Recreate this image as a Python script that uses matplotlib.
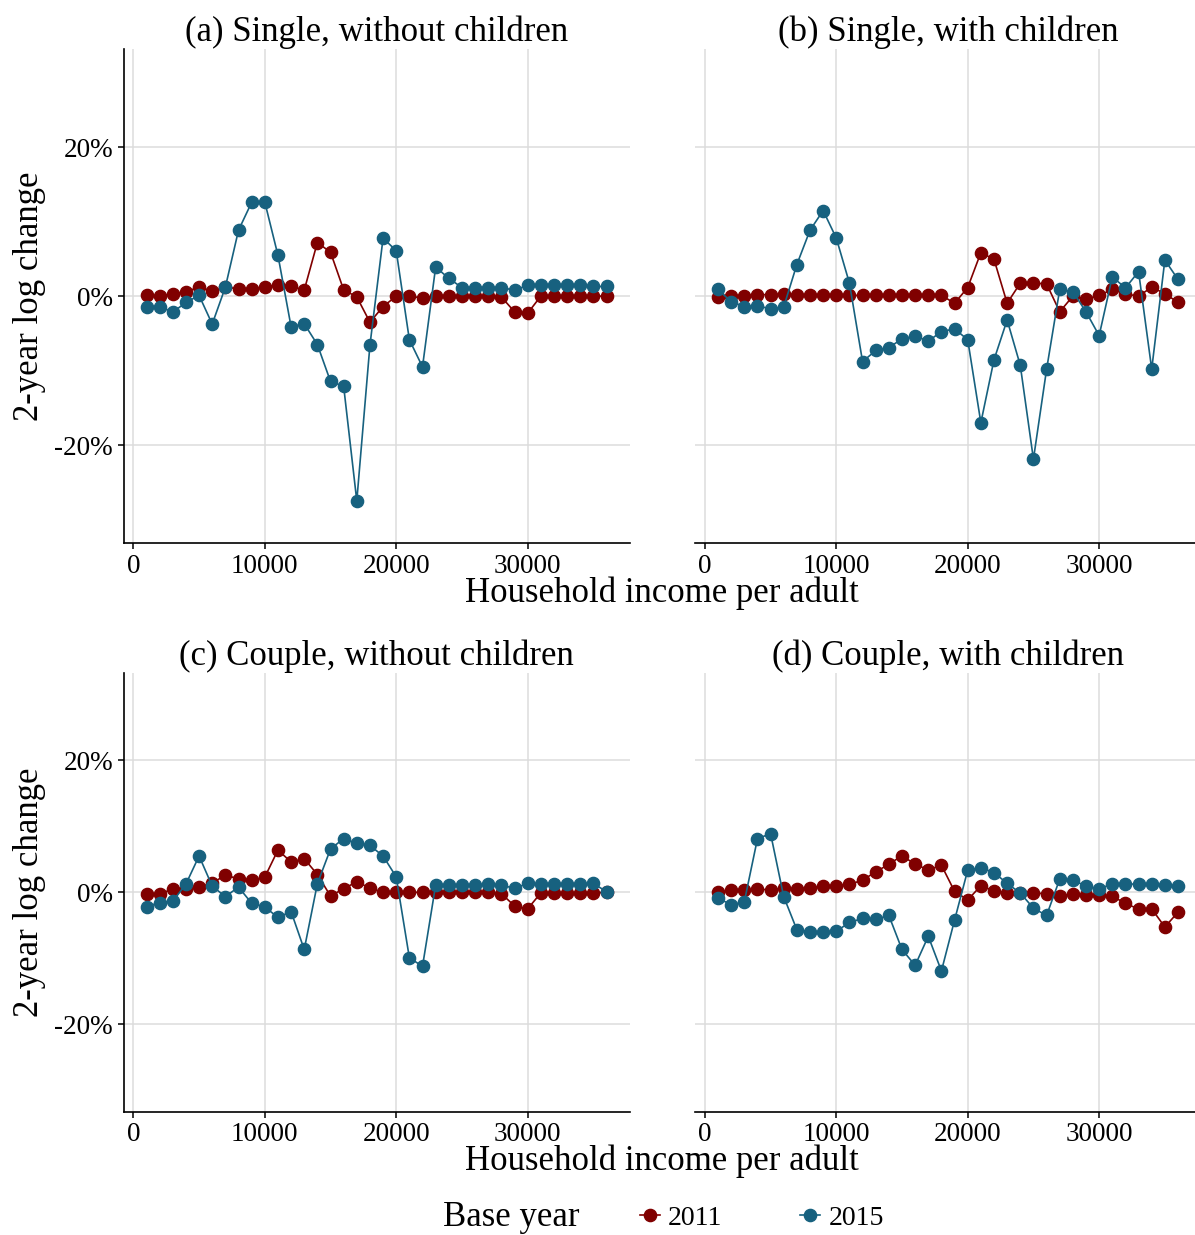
import matplotlib.pyplot as plt
from matplotlib.lines import Line2D

plt.rcParams['font.family'] = ['Liberation Serif', 'DejaVu Serif']

income = list(range(1000, 37000, 1000))

# 2-year log change (%) by base year, one pair of series per household type
single_nokids_2011 = [0.1, 0.0, 0.3, 0.6, 1.2, 0.7, 1.2, 1.0, 1.0, 1.25, 1.5, 1.35,
                      0.8, 7.2, 5.9, 0.85, -0.1, -3.5, -1.4, 0.0, 0.0, -0.25, 0.0, 0.0,
                      0.0, 0.0, 0.0, -0.1, -2.1, -2.3, 0.0, 0.0, 0.0, 0.0, 0.0, 0.0]
single_nokids_2015 = [-1.4, -1.4, -2.15, -0.85, 0.1, -3.75, 1.2, 8.85, 12.6, 12.65, 5.5, -4.1,
                      -3.7, -6.5, -11.45, -12.1, -27.5, -6.6, 7.8, 6.1, -5.85, -9.5, 3.9, 2.4,
                      1.15, 1.15, 1.15, 1.15, 0.8, 1.45, 1.45, 1.45, 1.45, 1.5, 1.3, 1.3]

single_kids_2011 = [-0.15, 0.0, 0.0, 0.2, 0.2, 0.25, 0.2, 0.15, 0.1, 0.1, 0.1, 0.1,
                    0.1, 0.1, 0.1, 0.1, 0.1, 0.1, -0.95, 1.15, 5.85, 4.95, -0.95, 1.75,
                    1.75, 1.65, -2.1, 0.0, -0.4, 0.1, 0.9, 0.3, 0.0, 1.2, 0.35, -0.85]
single_kids_2015 = [0.9, -0.75, -1.4, -1.3, -1.7, -1.45, 4.25, 8.85, 11.5, 7.8, 1.75, -8.8,
                    -7.3, -6.9, -5.75, -5.35, -6.05, -4.75, -4.4, -5.85, -17.0, -8.55, -3.2, -9.3,
                    -21.9, -9.85, 0.9, 0.6, -2.1, -5.3, 2.6, 1.1, 3.3, -9.8, 4.85, 2.25]

couple_nokids_2011 = [-0.3, -0.3, 0.55, 0.5, 0.8, 1.4, 2.6, 2.05, 1.85, 2.3, 6.4, 4.6,
                      5.1, 2.7, -0.55, 0.55, 1.6, 0.65, 0.0, 0.0, 0.0, 0.0, 0.0, 0.0,
                      0.0, 0.0, 0.0, -0.2, -2.05, -2.5, -0.1, -0.1, -0.1, -0.1, -0.1, 0.0]
couple_nokids_2015 = [-2.15, -1.55, -1.35, 1.25, 5.5, 0.95, -0.65, 0.8, -1.65, -2.2, -3.8, -2.9,
                      -8.65, 1.3, 6.55, 8.15, 7.4, 7.1, 5.5, 2.35, -9.9, -11.2, 1.1, 1.1,
                      1.1, 1.1, 1.2, 1.1, 0.6, 1.35, 1.25, 1.25, 1.25, 1.25, 1.35, 0.1]

couple_kids_2011 = [0.0, 0.3, 0.3, 0.5, 0.35, 0.65, 0.5, 0.7, 0.9, 1.0, 1.2, 1.85,
                    3.1, 4.25, 5.55, 4.25, 3.4, 4.1, 0.15, -1.15, 1.0, 0.2, -0.05, -0.15,
                    -0.05, -0.25, -0.5, -0.25, -0.35, -0.45, -0.6, -1.65, -2.55, -2.5, -5.25, -3.0]
couple_kids_2015 = [-0.9, -1.85, -1.45, 8.1, 8.9, -0.65, -5.65, -5.95, -6.0, -5.9, -4.55, -3.95,
                    -4.1, -3.5, -8.65, -11.05, -6.65, -11.9, -4.2, 3.35, 3.7, 3.0, 1.35, -0.1,
                    -2.4, -3.5, 2.0, 1.85, 0.95, 0.55, 1.25, 1.25, 1.25, 1.25, 1.05, 1.0]

titles = ['(a) Single, without children', '(b) Single, with children',
          '(c) Couple, without children', '(d) Couple, with children']
series = [(single_nokids_2011, single_nokids_2015),
          (single_kids_2011, single_kids_2015),
          (couple_nokids_2011, couple_nokids_2015),
          (couple_kids_2011, couple_kids_2015)]

base_years = ['2011', '2015']
colors = ['#800000', '#17617f']

yticks = [-20, 0, 20]
ytick_labels = ['-20%', '0%', '20%']
xticks = [0, 10000, 20000, 30000]

fig = plt.figure(figsize=(11.95, 12.35), dpi=100)

W = 1195.0
H = 1235.0
lefts = [123.5 / W, 695 / W]
width = 506 / W
rows = [(49 / H, 543.3 / H), (673 / H, 1111.7 / H)]

axes = []
for i in range(4):
    r, c = divmod(i, 2)
    top, bot = rows[r]
    ax = fig.add_axes([lefts[c], 1 - bot, width, bot - top])
    axes.append(ax)

    for vals, col, lab in zip(series[i], colors, base_years):
        ax.plot(income, vals, color=col, marker='o', markersize=8.8,
                linewidth=1.2, label=lab, zorder=3)

    ax.set_xlim(-750, 37750)
    ax.set_ylim(-33.2, 33.2)
    ax.set_xticks(xticks)
    ax.set_xticklabels([str(t) for t in xticks])
    ax.set_yticks(yticks)
    ax.grid(True, color='#dcdcdc', linewidth=1.1)
    ax.set_axisbelow(True)
    ax.set_title(titles[i], fontsize=25, pad=5)

    for s in ['top', 'right']:
        ax.spines[s].set_visible(False)
    ax.spines['bottom'].set_linewidth(1.2)
    ax.spines['left'].set_linewidth(1.2)
    ax.tick_params(axis='both', labelsize=19.5, length=4, width=1.1, color='black')

    if c == 0:
        ax.set_yticklabels(ytick_labels)
    else:
        ax.spines['left'].set_visible(False)
        ax.tick_params(axis='y', left=False, labelleft=False)

# shared axis labels for each row
for top, bot in rows:
    mid = 1 - (top + bot) / 2
    fig.text(30 / W, mid, '2-year log change', rotation=90, fontsize=25,
             ha='center', va='center')
    fig.text(662 / W, 1 - (bot + 50 / H), 'Household income per adult',
             fontsize=25, ha='center', va='center')

fig.text(511 / W, 1 - 1218 / H, 'Base year', fontsize=25, ha='center', va='center')
handles = [Line2D([0], [0], color=c, marker='o', markersize=8.8, linewidth=1.2)
           for c in colors]
fig.legend(handles, base_years, loc='center left', bbox_to_anchor=(640 / W, 1 - 1218 / H),
           ncol=2, frameon=False, fontsize=20, handlelength=0.72, handletextpad=0.29,
           columnspacing=2.8, borderpad=0, borderaxespad=0)

fig.savefig('out.png', dpi=100)
